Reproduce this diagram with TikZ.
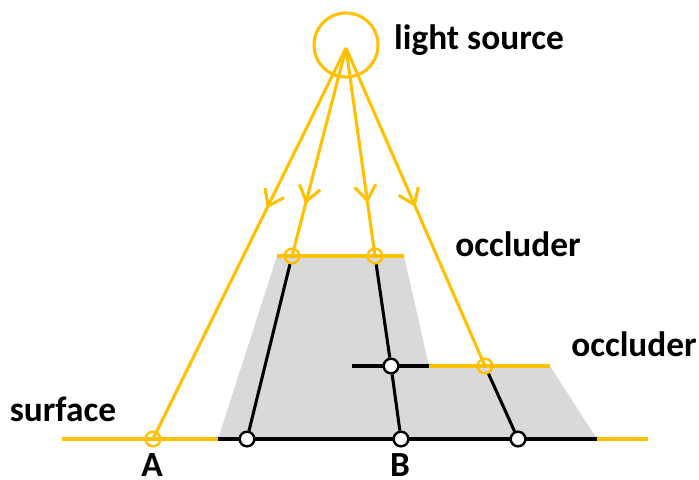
\documentclass[tikz,border=0pt]{standalone}
\usepackage{fontspec}
\setmainfont{Carlito}
\usetikzlibrary{arrows.meta,decorations.markings}
\definecolor{gold}{HTML}{FFC000}
\definecolor{shadowgray}{HTML}{D9D9D9}
\tikzset{
  ray/.style={draw=gold,line width=2.3pt},
  blk/.style={draw=black,line width=2.3pt},
  ypt/.style={circle,draw=gold,line width=1.8pt,minimum size=11pt,inner sep=0pt},
  bpt/.style={circle,draw=black,fill=white,line width=1.8pt,minimum size=11pt,inner sep=0pt},
  lbl/.style={font=\bfseries\fontsize{26.5}{30}\selectfont,inner sep=0pt},
  mid/.style={postaction={decorate},decoration={markings,mark=at position #1 with {\arrow[gold,line width=2.3pt]{Straight Barb[length=11pt,width=16pt]}}}}
}
\begin{document}
\begin{tikzpicture}[x=0.75pt,y=-0.75pt]
\useasboundingbox (0,0) rectangle (699,479);
% shadow
\fill[shadowgray] (277,256) -- (404,256) -- (429,366) -- (550,366) -- (597,439) -- (218,439) -- cycle;
% light source
\node[circle,draw=gold,line width=2.3pt,minimum size=48pt,inner sep=0pt] (src) at (346,45) {};
\coordinate (L) at (346,48);
% coordinates
\coordinate (sl) at (62,439);
\coordinate (s1) at (218,439);
\coordinate (s2) at (597,439);
\coordinate (sr) at (648,439);
\coordinate (u1) at (277,256);
\coordinate (u2) at (404,256);
\coordinate (m1) at (352,366);
\coordinate (m2) at (429,366);
\coordinate (m3) at (550,366);
% surface and occluders
\draw[ray] (sl) -- (s1);
\draw[blk] (s1) -- (s2);
\draw[ray] (s2) -- (sr);
\draw[ray] (u1) -- (u2);
\draw[blk] (m1) -- (m2);
\draw[ray] (m2) -- (m3);
% points
\node[ypt] (A) at (153,439) {};
\node[ypt] (o1) at (292,256) {};
\node[ypt] (o2) at (375,256) {};
\node[ypt] (o3) at (485,366) {};
\node[bpt] (b1) at (247,439) {};
\node[bpt] (b2) at (391,366) {};
\node[bpt] (b3) at (401,439) {};
\node[bpt] (b4) at (518,439) {};
% rays
\draw[ray,mid=0.41] (L) -- (A.center);
\draw[ray,mid=0.75] (L) -- (o1.center);
\draw[ray,mid=0.745] (L) -- (o2.center);
\draw[ray,mid=0.5] (L) -- (o3.center);
% projections
\draw[blk] (o1) -- (b1);
\draw[blk] (o2) -- (b2);
\draw[blk] (b2) -- (b3);
\draw[blk] (o3) -- (b4);
% labels
\node[lbl] (tls) at (479,40) {light source};
\node[lbl] (to1) at (518,244) {occluder};
\node[lbl] (to2) at (634,344) {occluder};
\node[lbl] (tsf) at (63,409) {surface};
\node[lbl] (tA) at (152,465) {A};
\node[lbl] (tB) at (400,465) {B};
\end{tikzpicture}
\end{document}
